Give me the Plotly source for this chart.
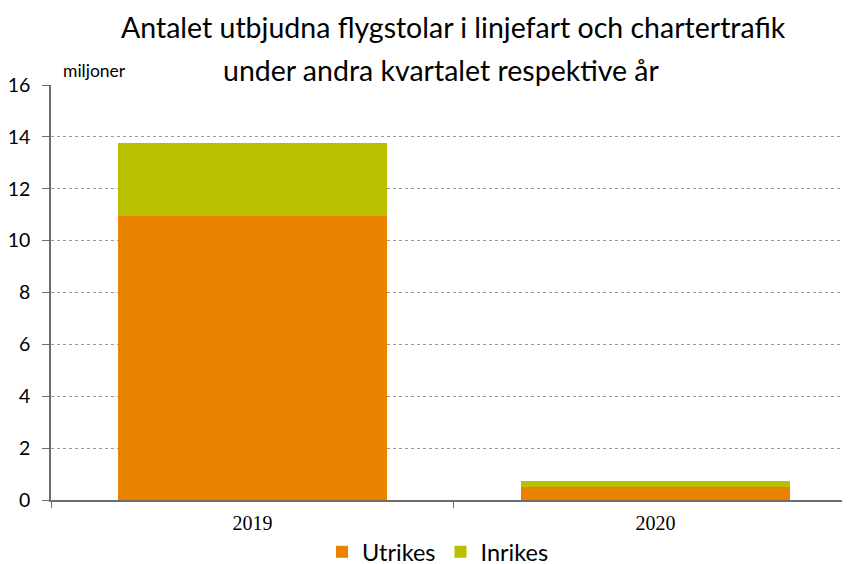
import plotly.graph_objects as go

years = ["2019", "2020"]
utrikes = [10.95, 0.51]
inrikes = [2.81, 0.23]
y_ticks = [0, 2, 4, 6, 8, 10, 12, 14, 16]

title_lines = ["Antalet utbjudna flygstolar i linjefart och chartertrafik",
               "under andra kvartalet respektive år"]

font_sans = "Lato, Open Sans, sans-serif"

# page has an 8px body margin; figure is sized so the plot lands where the reference has it
fig = go.Figure()
fig.add_trace(go.Bar(x=years, y=utrikes, name="Utrikes", marker=dict(color="#E98300", line=dict(width=0))))
fig.add_trace(go.Bar(x=years, y=inrikes, name="Inrikes", marker=dict(color="#B9C000", line=dict(width=0))))


def px_y(page_y):
    return (500 - page_y) / 415.0


def px_x(page_x):
    return (page_x - 51) / 799.0


fig.update_layout(
    barmode="stack",
    bargap=0.333,
    width=842, height=556,
    margin=dict(l=43, r=0, t=77, b=64, autoexpand=False),
    plot_bgcolor="white", paper_bgcolor="white",
    showlegend=True,
    legend=dict(orientation="h", x=px_x(438), xanchor="center", y=px_y(552), yanchor="middle",
                font=dict(family=font_sans, size=23.5, color="black"),
                itemwidth=30, traceorder="normal"),
    xaxis=dict(
        type="category", range=[-0.5, 1.483], automargin=False,
        showline=True, linecolor="#6e6e6e", linewidth=1.5,
        ticks="outside", tickson="boundaries", ticklen=6, tickcolor="#6e6e6e",
        ticklabelstandoff=4,
        tickfont=dict(family="Liberation Serif, Times New Roman, serif", size=20, color="black"),
        showgrid=False,
    ),
    yaxis=dict(
        range=[0, 16], tickvals=y_ticks, automargin=False,
        showline=True, linecolor="#6e6e6e", linewidth=1.5,
        ticks="outside", ticklen=7, tickcolor="#6e6e6e",
        ticklabelstandoff=8,
        tickfont=dict(family=font_sans, size=19.5, color="black"),
        showgrid=True, gridcolor="#9a9a9a", griddash="dot", gridwidth=1,
        zeroline=False,
    ),
    annotations=[
        dict(text="miljoner", xref="paper", yref="paper", x=px_x(61), y=px_y(70),
             xanchor="left", yanchor="middle", showarrow=False,
             font=dict(family=font_sans, size=17.5, color="black")),
        dict(text=title_lines[0], xref="paper", yref="paper", x=px_x(453), y=px_y(27),
             xanchor="center", yanchor="middle", showarrow=False,
             font=dict(family=font_sans, size=28.5, color="black")),
        dict(text=title_lines[1], xref="paper", yref="paper", x=px_x(441), y=px_y(70),
             xanchor="center", yanchor="middle", showarrow=False,
             font=dict(family=font_sans, size=28.5, color="black")),
    ],
)

fig.write_html("out.html")
